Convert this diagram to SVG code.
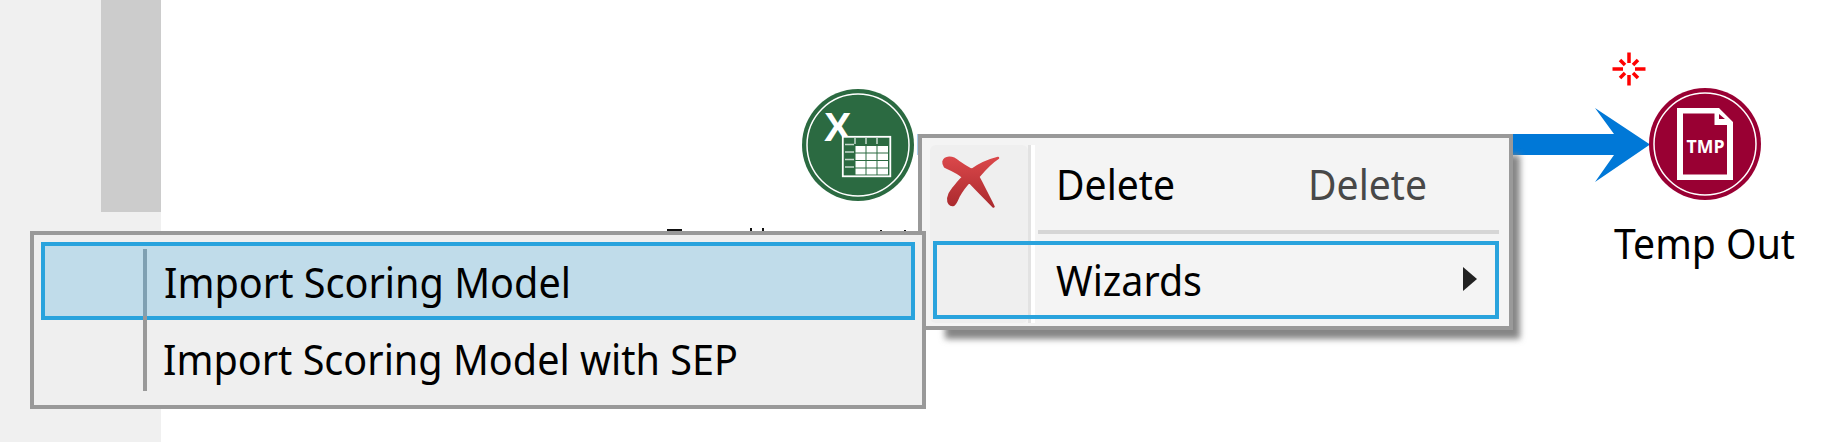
<svg xmlns="http://www.w3.org/2000/svg" width="1824" height="442" viewBox="0 0 1824 442">
<style>
text{font-family:"Noto Sans","Open Sans","Liberation Sans",sans-serif;font-size:41px;fill:#000}
.menu{stroke:#999;stroke-width:4}
.hi{stroke:#29a3dd;stroke-width:4}
.ring{fill:none;stroke:#fff;stroke-width:1.5}
.mark{fill:#111}
.spin line{stroke:#f00;stroke-width:3.500}
.tbl{fill:#fff}
.tick{stroke:#c4d8cb;stroke-width:1.500;fill:none}
</style>
<defs>
<filter id="blur" x="-5%" y="-10%" width="110%" height="120%"><feGaussianBlur stdDeviation="3"/></filter>
<linearGradient id="xg" x1="0" y1="0" x2="0" y2="1"><stop offset="0" stop-color="#da474a"/><stop offset="1" stop-color="#ab2a2e"/></linearGradient>
</defs>
<rect width="1824" height="442" fill="#fff"/>
<g id="sidebar">
<rect x="0" y="0" width="161" height="442" fill="#f0f0f0"/>
<rect x="101" y="0" width="60" height="212" fill="#ccc"/>
</g>
<g id="connectors">
<rect x="917" y="134" width="1" height="21" fill="#a8cdee"/>
<path d="M918 134H1614L1595 108L1650 144.500L1595 182L1614 155H918Z" fill="#0078d7"/>
</g>
<g id="node-excel">
<circle cx="858" cy="145" r="56" fill="#2b6a41"/>
<circle class="ring" cx="858" cy="145" r="51"/>
<text x="824" y="141" style="font-family:'Liberation Sans',sans-serif;font-weight:700;font-size:41px;fill:#fff">X</text>
<rect x="842.800" y="136.800" width="47.500" height="39.500" fill="#2b6a41" stroke="#fff" stroke-width="1.800"/>
<g class="tbl">
<rect x="855.500" y="146" width="10" height="6.500"/><rect x="866.500" y="146" width="10" height="6.500"/><rect x="877.500" y="146" width="10.500" height="6.500"/>
<rect x="855.500" y="153.500" width="10" height="6.500"/><rect x="866.500" y="153.500" width="10" height="6.500"/><rect x="877.500" y="153.500" width="10.500" height="6.500"/>
<rect x="855.500" y="161" width="10" height="6.500"/><rect x="866.500" y="161" width="10" height="6.500"/><rect x="877.500" y="161" width="10.500" height="6.500"/>
<rect x="855.500" y="168.500" width="10" height="6"/><rect x="866.500" y="168.500" width="10" height="6"/><rect x="877.500" y="168.500" width="10.500" height="6"/>
</g>
<path class="tick" d="M855 138V144M866 138V144M877 138V144M845 144.500H854M845 152H854M845 159.500H854M845 167H854"/>
<rect class="mark" x="667" y="229" width="15" height="2"/>
<rect class="mark" x="750" y="228" width="2" height="3"/>
<rect class="mark" x="762" y="228" width="2" height="3"/>
<rect class="mark" x="880" y="230" width="2" height="1"/>
<rect class="mark" x="904" y="230" width="2" height="1"/>
</g>
<g id="node-temp-out">
<circle cx="1705" cy="144" r="56" fill="#903"/>
<circle class="ring" cx="1705" cy="144" r="51"/>
<path fill="#fff" fill-rule="evenodd" d="M1677 108H1719L1733 122V180H1677ZM1683 113.500V174.500H1727V125H1714.500V113.500ZM1719 114V119H1725Z"/>
<text x="1686.500" y="152.500" textLength="38" lengthAdjust="spacingAndGlyphs" style="font-family:'Open Sans',sans-serif;font-weight:700;font-size:18px;fill:#fff">TMP</text>
<text x="1614" y="259" textLength="181" lengthAdjust="spacingAndGlyphs">Temp Out</text>
<g class="spin">
<line x1="1629" y1="52.500" x2="1629" y2="63"/><line x1="1629" y1="75" x2="1629" y2="85.500"/>
<line x1="1612.500" y1="69" x2="1623" y2="69"/><line x1="1635" y1="69" x2="1645.500" y2="69"/>
<line x1="1620" y1="60" x2="1625" y2="65"/><line x1="1633" y1="73" x2="1638" y2="78"/>
<line x1="1638" y1="60" x2="1633" y2="65"/><line x1="1625" y1="73" x2="1620" y2="78"/>
</g>
</g>
<g id="menu-main">
<rect x="945" y="155" width="575" height="184" fill="#858585" filter="url(#blur)"/>
<rect class="menu" x="920" y="136" width="591" height="192" fill="#f4f4f4"/>
<rect x="930" y="145" width="98" height="178" rx="6" fill="#efefef"/>
<rect x="1028" y="145" width="3" height="178" fill="#e2e2e2"/>
<rect x="1031" y="145" width="4" height="178" fill="#fff"/>
<path d="M943.500 161.700C945 157 952 156 958.300 161.700C963 165 968 168 971.700 170C980 164 990 160 998 158C990 163 984 170 978.300 176.700C983 186 989 198 993.500 206.500C987 200 977 190 969.300 181.700C964 187 961 192 958.300 196.700C956 202 955 205 953.300 205C950 205.500 948 203 948.300 198.300C949 194 951 191 953.300 188.300C957 184 960 180 963.300 177.300C958 172 950 169 945 166.700C944 165 943.300 163 943.500 161.700Z" fill="url(#xg)" stroke="url(#xg)" stroke-width="2.500" stroke-linejoin="round"/>
<rect x="1038" y="230" width="461" height="4" fill="#d6d6d6"/>
<rect class="hi" x="935" y="243" width="562" height="74" fill="none"/>
<text x="1056" y="200" textLength="119" lengthAdjust="spacingAndGlyphs">Delete</text>
<text x="1308" y="200" textLength="119" lengthAdjust="spacingAndGlyphs" style="fill:#484848">Delete</text>
<text x="1056" y="296" textLength="146" lengthAdjust="spacingAndGlyphs">Wizards</text>
<path d="M1463 267L1477 279L1463 291Z" fill="#222"/>
</g>
<g id="menu-wizards">
<rect class="menu" x="32" y="233" width="892" height="174" fill="#efefef"/>
<rect class="hi" x="43" y="244" width="870" height="74" fill="#c0dcea"/>
<rect x="143" y="249" width="4" height="142" fill="#999"/>
<rect x="143" y="249" width="4" height="67" fill="#7fa0b2"/>
<text x="164" y="298" textLength="407" lengthAdjust="spacingAndGlyphs">Import Scoring Model</text>
<text x="163" y="375" textLength="575" lengthAdjust="spacingAndGlyphs">Import Scoring Model with SEP</text>
</g>
</svg>
